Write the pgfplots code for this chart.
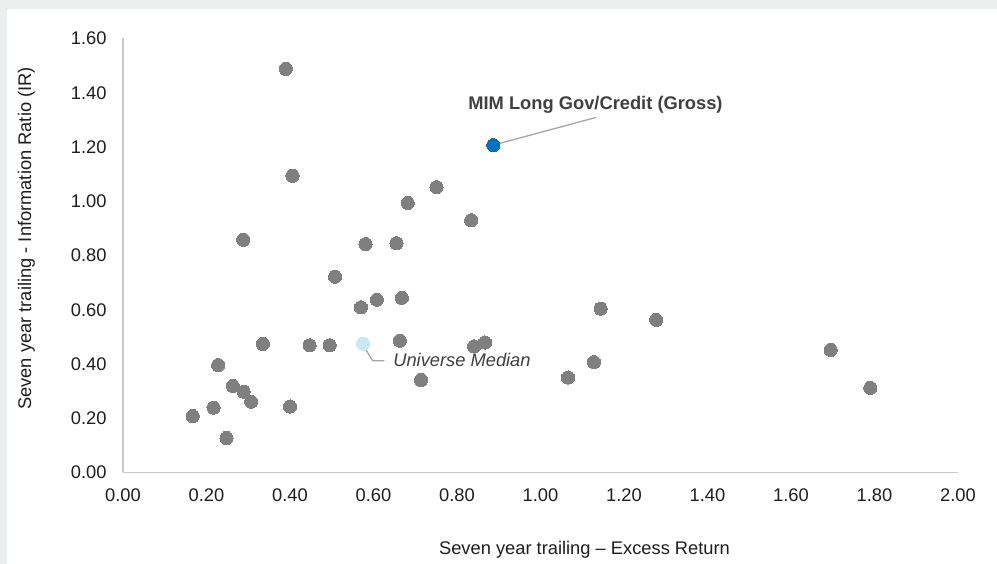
\documentclass[border=0pt]{standalone}
\usepackage{fontspec}
\setmainfont{Liberation Sans}
\usepackage{pgfplots}
\pgfplotsset{compat=1.18}
\definecolor{bggray}{RGB}{236,238,238}
\definecolor{ptgray}{RGB}{127,127,127}
\definecolor{mimblue}{RGB}{0,112,192}
\definecolor{medblue}{RGB}{199,233,250}
\definecolor{axgray}{RGB}{200,200,200}
\definecolor{leader}{RGB}{166,166,166}
\definecolor{txt}{RGB}{30,30,30}
\definecolor{anno}{RGB}{64,64,64}
\newcommand\cf{\fontsize{18.3bp}{22bp}\selectfont}
\begin{document}
\begin{tikzpicture}
\fill[bggray] (0bp,0bp) rectangle (997bp,564bp);
\fill[white] (6.7bp,0bp) rectangle (997bp,555.3bp);
\useasboundingbox (0bp,0bp) rectangle (997bp,564bp);
\begin{axis}[
  at={(123bp,91.5bp)}, anchor=south west,
  scale only axis, width=835bp, height=434bp,
  xmin=0, xmax=2, ymin=0, ymax=1.6,
  axis x line=bottom, axis y line=left,
  axis line style={-, draw=axgray, line width=1.3bp},
  major tick length=0pt,
  xtick={0,0.2,0.4,0.6,0.8,1.0,1.2,1.4,1.6,1.8,2.0},
  ytick={0,0.2,0.4,0.6,0.8,1.0,1.2,1.4,1.6},
  /pgf/number format/.cd, fixed, fixed zerofill, precision=2, assume math mode=true,
  /pgfplots/.cd,
  tick label style={font=\cf, color=txt, inner sep=0pt},
  xticklabel style={yshift=-16bp},
  yticklabel style={xshift=-16.3bp},
  clip=false,
]
\addplot[only marks, mark=*, mark size=6.6bp, mark options={fill=ptgray, draw=ptgray, line width=0pt}] coordinates {
(0.390,1.488) (0.406,1.094) (0.288,0.858)
(0.508,0.722) (0.335,0.474) (0.447,0.469) (0.495,0.469)
(0.228,0.396) (0.263,0.319) (0.289,0.298) (0.307,0.261)
(0.400,0.243) (0.217,0.239) (0.167,0.208) (0.248,0.127)
(0.751,1.052) (0.682,0.994) (0.834,0.930) (0.581,0.842)
(0.655,0.845) (0.570,0.609) (0.608,0.637) (0.668,0.644)
(0.663,0.486) (0.841,0.465) (0.867,0.479) (0.714,0.341)
(1.144,0.604) (1.277,0.563) (1.128,0.407) (1.066,0.350)
(1.695,0.452) (1.790,0.312)
};
\addplot[only marks, mark=*, mark size=6.6bp, mark options={fill=medblue, draw=medblue, line width=0pt}] coordinates {(0.575,0.475)};
\addplot[only marks, mark=*, mark size=6.6bp, mark options={fill=mimblue, draw=mimblue, line width=0pt}] coordinates {(0.887,1.207)};
\draw[leader, line width=1.3bp] (axis cs:0.887,1.207) -- (axis cs:1.133,1.309);
\draw[leader, line width=1.3bp] (axis cs:0.575,0.470) -- (axis cs:0.598,0.412) -- (axis cs:0.626,0.412);
\node[anchor=base, inner sep=0pt, font=\cf\bfseries, text=anno] at (axis cs:1.1317,1.3364) {MIM Long Gov/Credit (Gross)};
\node[anchor=base west, inner sep=0pt, font=\cf\itshape, text=anno] at (axis cs:0.647,0.390) {Universe Median};
\end{axis}
\node[anchor=base, inner sep=0pt, font=\cf, text=txt] at (584.5bp,10bp) {Seven year trailing – Excess Return};
\node[anchor=base, rotate=90, inner sep=0pt, font=\cf, text=txt] at (31bp,325.5bp) {Seven year trailing - Information Ratio (IR)};
\end{tikzpicture}
\end{document}
